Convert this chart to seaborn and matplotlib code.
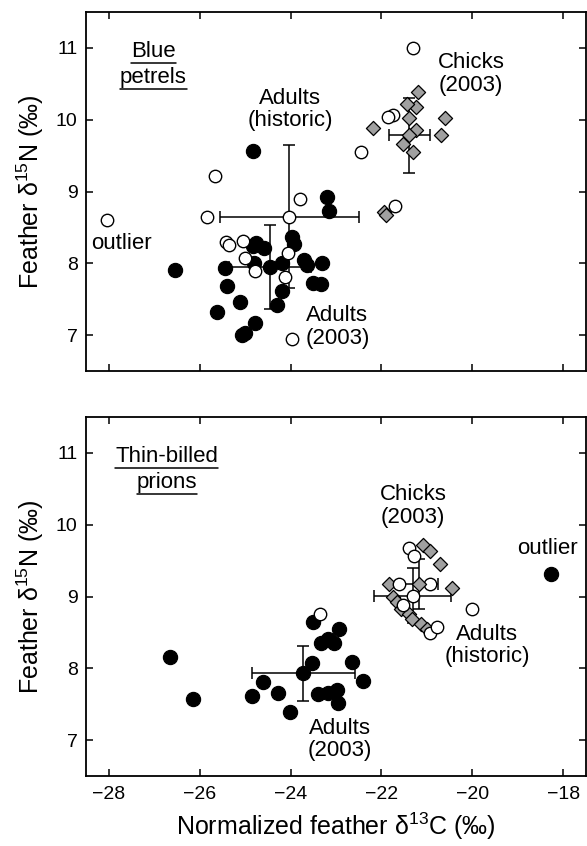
import matplotlib
matplotlib.use("Agg")
import matplotlib.pyplot as plt
import seaborn as sns
from matplotlib.lines import Line2D

# Blue petrels
bp_adult_c = [-24.82, -23.19, -23.15, -26.54, -23.97, -23.92, -24.76, -24.58, -24.82, -25.44, -24.80, -24.19, -23.70,
              -23.64, -23.31, -23.50, -23.34, -25.39, -24.19, -25.11, -24.30, -25.62, -24.78, -25.00, -25.07]
bp_adult_n = [9.57, 8.92, 8.73, 7.91, 8.36, 8.27, 8.28, 8.22, 8.24, 7.93, 8.00, 8.01, 8.04,
              7.97, 8.00, 7.72, 7.71, 7.69, 7.61, 7.46, 7.42, 7.32, 7.17, 7.03, 7.00]
bp_hist_c = [-28.04, -25.67, -25.83, -23.79, -25.42, -25.35, -25.05, -25.00, -24.78, -24.05, -24.12, -23.97,
             -21.30, -21.74, -21.85, -22.44, -21.70]
bp_hist_n = [8.60, 9.21, 8.64, 8.89, 8.30, 8.26, 8.31, 8.07, 7.89, 8.15, 7.81, 6.94,
             11.00, 10.07, 10.04, 9.55, 8.80]
bp_chick_c = [-21.20, -21.24, -21.43, -21.39, -20.60, -22.18, -21.25, -20.70, -21.52, -21.31, -21.95, -21.90]
bp_chick_n = [10.39, 10.17, 10.22, 10.02, 10.03, 9.89, 9.85, 9.78, 9.66, 9.55, 8.72, 8.67]
# means (adults 2003, adults historic, chicks) and SD
bp_mean_c = [-24.45, -24.03, -21.39]
bp_mean_n = [7.95, 8.65, 9.78]
bp_sd_c = [0.90, 1.53, 0.45]
bp_sd_n = [0.58, 1.00, 0.52]

# Thin-billed prions
tp_adult_c = [-26.65, -26.14, -24.85, -24.61, -24.28, -24.01, -23.53, -23.51, -23.34, -23.17, -23.04, -22.93,
              -22.65, -22.40, -23.39, -23.17, -22.98, -22.95, -18.28]
tp_adult_n = [8.16, 7.57, 7.61, 7.81, 7.66, 7.39, 8.07, 8.64, 8.35, 8.41, 8.35, 8.55,
              8.09, 7.82, 7.64, 7.65, 7.70, 7.51, 9.32]
tp_hist_c = [-23.35, -21.39, -21.28, -21.61, -20.93, -21.52, -20.93, -20.77, -20.00]
tp_hist_n = [8.75, 9.68, 9.57, 9.17, 9.18, 8.88, 8.49, 8.57, 8.83]
tp_chick_c = [-21.09, -20.93, -20.71, -20.44, -21.83, -21.74, -21.66, -21.56, -21.39, -21.33, -21.12, -21.00]
tp_chick_n = [9.72, 9.63, 9.45, 9.12, 9.18, 8.99, 8.92, 8.83, 8.76, 8.68, 8.62, 8.55]
tp_mean_c = [-23.72, -21.31, -21.17]
tp_mean_n = [7.93, 9.01, 9.17]
tp_sd_c = [1.13, 0.85, 0.41]
tp_sd_n = [0.38, 0.38, 0.35]

xticks = [-28, -26, -24, -22, -20, -18]
yticks = [7, 8, 9, 10, 11]

sns.set_style("ticks")
plt.rcParams['font.family'] = ['Liberation Sans', 'DejaVu Sans']
plt.rcParams['mathtext.fontset'] = 'custom'
plt.rcParams['mathtext.rm'] = 'Liberation Sans'
plt.rcParams['mathtext.it'] = 'Liberation Sans:italic'
for k in ['text.color', 'axes.labelcolor', 'xtick.color', 'ytick.color', 'axes.edgecolor']:
    plt.rcParams[k] = 'black'

fig = plt.figure(figsize=(5.87, 8.46), dpi=100)
W, H = 587, 846
ax1 = fig.add_axes([86 / W, 1 - 371 / H, 500 / W, 359 / H])
ax2 = fig.add_axes([86 / W, 1 - 776 / H, 500 / W, 359 / H])

grey = "#a0a0a0"


def panel(ax, ac, an, hc, hn, cc, cn, mc, mn, sc, sn):
    ax.errorbar(mc, mn, xerr=sc, yerr=sn, fmt='none', ecolor='black', elinewidth=1.1,
                capsize=4, capthick=1.1, zorder=1)
    sns.scatterplot(x=ac, y=an, ax=ax, color='black', edgecolor='black', s=105, marker='o', zorder=2)
    sns.scatterplot(x=cc, y=cn, ax=ax, color=grey, edgecolor='black', linewidth=0.9, s=52, marker='D', zorder=3)
    sns.scatterplot(x=hc, y=hn, ax=ax, color='white', edgecolor='black', linewidth=1.0, s=80, marker='o', zorder=4)
    # means
    sns.scatterplot(x=mc[:1], y=mn[:1], ax=ax, color='black', edgecolor='black', s=105, marker='o', zorder=5)
    sns.scatterplot(x=mc[1:2], y=mn[1:2], ax=ax, color='white', edgecolor='black', linewidth=1.0, s=80,
                    marker='o', zorder=5)
    sns.scatterplot(x=mc[2:], y=mn[2:], ax=ax, color=grey, edgecolor='black', linewidth=0.9, s=52,
                    marker='D', zorder=5)
    ax.set_xlim(-28.5, -17.5)
    ax.set_ylim(6.5, 11.5)
    ax.set_xticks(xticks)
    ax.set_yticks(yticks)
    ax.tick_params(direction='in', length=5, width=1.1, top=True, right=True, labelsize=14, color='black')
    ax.tick_params(axis='x', pad=7)
    ax.tick_params(axis='y', pad=6)
    for sp in ax.spines.values():
        sp.set_visible(True)
        sp.set_linewidth(1.3)
        sp.set_color('black')
    ax.set_ylabel("Feather δ$^{15}$N (‰)", fontsize=18, labelpad=7)


panel(ax1, bp_adult_c, bp_adult_n, bp_hist_c, bp_hist_n, bp_chick_c, bp_chick_n,
      bp_mean_c, bp_mean_n, bp_sd_c, bp_sd_n)
panel(ax2, tp_adult_c, tp_adult_n, tp_hist_c, tp_hist_n, tp_chick_c, tp_chick_n,
      tp_mean_c, tp_mean_n, tp_sd_c, tp_sd_n)
ax1.set_xticklabels([])
ax2.set_xlabel("Normalized feather δ$^{13}$C (‰)", fontsize=18, labelpad=6)

fs = 16
kw = dict(ha='center', va='center', fontsize=fs, linespacing=1.1)
ax1.text(-24.01, 10.14, "Adults\n(historic)", **kw)
ax1.text(-20.03, 10.64, "Chicks\n(2003)", **kw)
ax1.text(-27.72, 8.28, "outlier", **kw)
ax1.text(-22.97, 7.11, "Adults\n(2003)", **kw)

ax2.text(-21.31, 10.26, "Chicks\n(2003)", **kw)
ax2.text(-18.34, 9.67, "outlier", **kw)
ax2.text(-19.68, 8.32, "Adults\n(historic)", **kw)
ax2.text(-22.91, 7.01, "Adults\n(2003)", **kw)

under = []
for ax, words, xc in [(ax1, ["Blue", "petrels"], -27.02), (ax2, ["Thin-billed", "prions"], -26.72)]:
    for w, yb in zip(words, [10.88, 10.51]):
        under.append(ax.text(xc, yb, w, ha='center', va='baseline', fontsize=fs))

fig.canvas.draw()
for t in under:
    bb = t.get_window_extent()
    y = bb.y0 - 1
    fig.add_artist(Line2D([bb.x0 / W, bb.x1 / W], [y / H, y / H], color='black', linewidth=1.1,
                          transform=fig.transFigure))

fig.savefig("out.png", dpi=100)
